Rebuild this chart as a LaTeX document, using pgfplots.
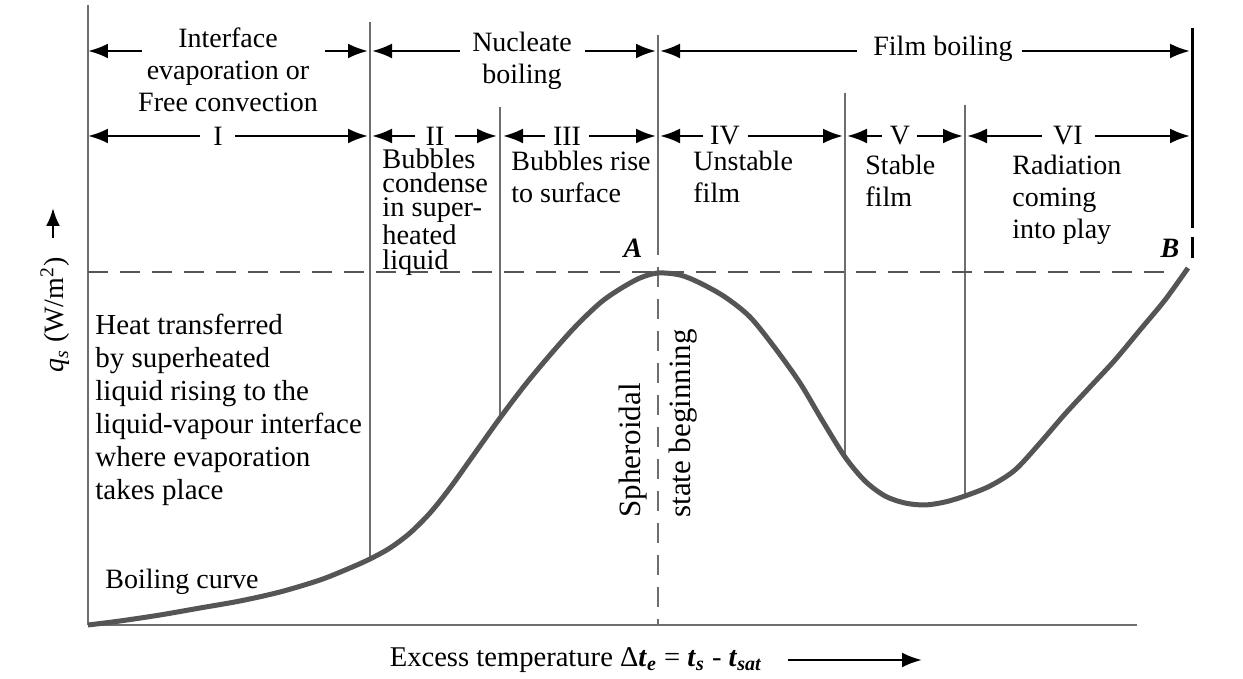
\documentclass[border=0pt]{standalone}
\usepackage{fontspec}
\setmainfont{Liberation Serif}
\usepackage{pgfplots}
\pgfplotsset{compat=1.18}
\usetikzlibrary{arrows.meta}

\definecolor{curvegray}{HTML}{555555}
\definecolor{linegray}{HTML}{6E6E6E}

\begin{document}
\begin{tikzpicture}[
  harr/.style={-{Latex[length=10pt,width=7.5pt]}, line width=1.3pt, black},
  txt/.style={font=\fontsize{14}{16}\selectfont, inner sep=0pt},
  vline/.style={linegray, line width=0.7pt}
]
\begin{axis}[
  scale only axis, width=524.5pt, height=310pt,
  xmin=0, xmax=1049, ymin=0, ymax=620,
  axis lines=left, axis line style={-, linegray, line width=1pt},
  xtick=\empty, ytick=\empty, clip=false,
]
\path (axis cs:-88,-54) rectangle (axis cs:1155,625);

% region boundaries
\draw[vline] (axis cs:282,603) -- (axis cs:282,66);
\draw[vline] (axis cs:412,518) -- (axis cs:412,208);
\draw[vline] (axis cs:757,532) -- (axis cs:757,168);
\draw[vline] (axis cs:877,520) -- (axis cs:877,130);
\draw[linegray, line width=0.9pt] (axis cs:570,590) -- (axis cs:570,390);
\draw[linegray, line width=0.9pt, dash pattern=on 10pt off 6pt] (axis cs:570,390) -- (axis cs:570,0);
\draw[black, line width=1.5pt] (axis cs:1104,597) -- (axis cs:1104,397);
\draw[black, line width=1.5pt] (axis cs:1104,388) -- (axis cs:1104,367);

% peak heat flux level
\draw[curvegray, line width=1pt, dash pattern=on 10pt off 6pt] (axis cs:0,353) -- (axis cs:1082,353);

% boiling curve (x = px-88, y = 625-py)
\addplot[curvegray, line width=2.5pt, smooth, tension=0.5] coordinates {
 (0,0) (32,4) (72,10) (112,17) (152,24) (192,33) (232,45) (262,57)
 (282,66) (302,77) (322,92) (342,112) (362,137) (387,172) (412,207)
 (437,240) (462,270) (487,298) (512,322) (532,336) (552,347) (570,352)
 (592,350) (612,342) (637,328) (662,308) (687,277) (712,242) (734,205)
 (757,168) (777,144) (797,129) (817,122) (837,120) (857,123) (877,129)
 (902,139) (927,155) (952,182) (977,211) (1002,238) (1027,265)
 (1052,295) (1077,325) (1100,357)
};

% top row arrows
\draw[harr] (axis cs:54,574) -- (axis cs:0,574);
\draw[harr] (axis cs:237,574) -- (axis cs:280,574);
\node[txt, align=center] at (axis cs:140,555) {Interface\\evaporation or\\Free convection};
\draw[harr] (axis cs:372,574) -- (axis cs:284,574);
\draw[harr] (axis cs:497,574) -- (axis cs:568,574);
\node[txt, align=center] at (axis cs:434,564) {Nucleate\\boiling};
\draw[harr] (axis cs:769,574) -- (axis cs:572,574);
\draw[harr] (axis cs:934,574) -- (axis cs:1102,574);
\node[txt] at (axis cs:855,576) {Film boiling};

% second row arrows
\draw[harr] (axis cs:112,489) -- (axis cs:0,489);
\draw[harr] (axis cs:147,489) -- (axis cs:280,489);
\node[txt] at (axis cs:130,489) {I};
\draw[harr] (axis cs:327,489) -- (axis cs:284,489);
\draw[harr] (axis cs:367,489) -- (axis cs:409,489);
\node[txt] at (axis cs:347,489) {II};
\draw[harr] (axis cs:457,489) -- (axis cs:415,489);
\draw[harr] (axis cs:501,489) -- (axis cs:568,489);
\node[txt] at (axis cs:479,489) {III};
\draw[harr] (axis cs:615,489) -- (axis cs:572,489);
\draw[harr] (axis cs:660,489) -- (axis cs:755,489);
\node[txt] at (axis cs:637,489) {IV};
\draw[harr] (axis cs:794,489) -- (axis cs:759,489);
\draw[harr] (axis cs:829,489) -- (axis cs:875,489);
\node[txt] at (axis cs:812,489) {V};
\draw[harr] (axis cs:954,489) -- (axis cs:879,489);
\draw[harr] (axis cs:1007,489) -- (axis cs:1102,489);
\node[txt] at (axis cs:980,489) {VI};

% region descriptions
\node[inner sep=0pt, anchor=north west, align=left, font=\fontsize{14.2}{12.2}\selectfont]
  at (axis cs:294,477) {Bubbles\\condense\\in super-\\heated\\liquid};
\node[txt, anchor=north west, align=left] at (axis cs:423,474) {Bubbles rise\\to surface};
\node[txt, anchor=north west, align=left] at (axis cs:605,474) {Unstable\\film};
\node[txt, anchor=north west, align=left] at (axis cs:777,470) {Stable\\film};
\node[txt, anchor=north west, align=left] at (axis cs:924,470) {Radiation\\coming\\into play};
\node[font=\fontsize{14.5}{16.5}\selectfont, inner sep=0pt, anchor=north west, align=left]
  at (axis cs:7,311) {Heat transferred\\by superheated\\liquid rising to the\\liquid-vapour interface\\where evaporation\\takes place};
\node[txt, anchor=west] at (axis cs:17,43) {Boiling curve};
\node[txt] at (axis cs:545,377) {\textbf{\textit{A}}};
\node[txt] at (axis cs:1082,377) {\textbf{\textit{B}}};

% spheroidal state
\node[font=\fontsize{15.5}{17}\selectfont, inner sep=0pt, rotate=90, anchor=base west] at (axis cs:552,107) {Spheroidal};
\node[font=\fontsize{15.5}{17}\selectfont, inner sep=0pt, rotate=90, anchor=base west] at (axis cs:602,107) {state beginning};

% axis labels
\node[txt, rotate=90] at (axis cs:-33,310) {\textit{q}\textsubscript{\textit{s}} (W/m\textsuperscript{2})};
\draw[-{Latex[length=9pt,width=7pt]}, line width=1.3pt] (axis cs:-35,387) -- (axis cs:-35,417);
\node[font=\fontsize{14.3}{16}\selectfont, inner sep=0pt] at (axis cs:488,-35) {Excess temperature Δ\textbf{\textit{t}}\textsubscript{\textbf{\textit{e}}} = \textbf{\textit{t}}\textsubscript{\textbf{\textit{s}}} - \textbf{\textit{t}}\textsubscript{\textbf{\textit{sat}}}};
\draw[harr] (axis cs:700,-35) -- (axis cs:834,-35);
\end{axis}
\end{tikzpicture}
\end{document}
